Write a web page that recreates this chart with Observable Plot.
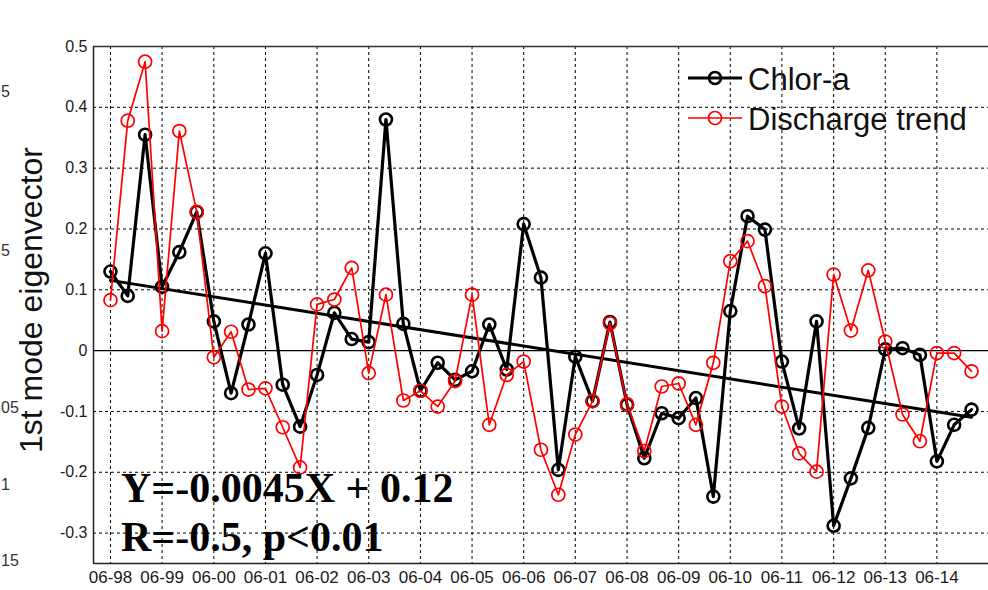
<!DOCTYPE html>
<html>
<head>
<meta charset="utf-8">
<script src="https://cdn.jsdelivr.net/npm/d3@7"></script>
<script src="https://cdn.jsdelivr.net/npm/@observablehq/plot@0.6"></script>
<style>
  html, body { margin: 0; padding: 0; background: #fff; }
  #chart { width: 988px; height: 590px; overflow: hidden; }
</style>
</head>
<body>
<div id="chart"></div>
<script>
// ---- data (every 4 months from June 1998) ----
const startYear = 1998, startMonth = 5, stepMonths = 4;
const chlorA = [0.13, 0.09, 0.355, 0.105, 0.162, 0.228, 0.048, -0.07, 0.043, 0.16,
  -0.056, -0.125, -0.04, 0.062, 0.019, 0.014, 0.38, 0.044, -0.066, -0.02,
  -0.048, -0.034, 0.043, -0.031, 0.208, 0.12, -0.196, -0.01, -0.083, 0.047,
  -0.089, -0.177, -0.103, -0.111, -0.078, -0.24, 0.065, 0.221, 0.199, -0.018,
  -0.128, 0.048, -0.288, -0.21, -0.127, 0.002, 0.004, -0.007, -0.182, -0.122, -0.097];
const discharge = [0.083, 0.378, 0.475, 0.032, 0.361, 0.228, -0.011, 0.031, -0.064, -0.062,
  -0.126, -0.192, 0.076, 0.084, 0.136, -0.037, 0.092, -0.082, -0.066, -0.092,
  -0.05, 0.092, -0.122, -0.04, -0.018, -0.163, -0.237, -0.138, -0.083, 0.045,
  -0.088, -0.165, -0.059, -0.054, -0.122, -0.02, 0.147, 0.18, 0.106, -0.092,
  -0.169, -0.199, 0.125, 0.033, 0.132, 0.015, -0.105, -0.149, -0.004, -0.004, -0.034];
const trendSlope = -0.0045, trendIntercept = 0.12;
const xTickLabels = ["06-98","06-99","06-00","06-01","06-02","06-03","06-04","06-05",
  "06-06","06-07","06-08","06-09","06-10","06-11","06-12","06-13","06-14"];
const yTicks = [0.5, 0.4, 0.3, 0.2, 0.1, 0, -0.1, -0.2, -0.3];
const yTickLabels = ["0.5","0.4","0.3","0.2","0.1","0","-0.1","-0.2","-0.3"];
const seriesNames = ["Chlor-a", "Discharge trend"];
const yTitle = "1st mode eigenvector";
const eqText = ["Y=-0.0045X + 0.12", "R=-0.5, p<0.01"];
// cut-off tick labels of the neighbouring panel, visible at the left edge
const strayLabels = ["5", "5", "05", "1", "15"];

// ---- build tables ----
const dateAt = i => new Date(Date.UTC(startYear, startMonth + stepMonths * i, 1));
const chl = chlorA.map((v, i) => ({date: dateAt(i), v}));
const dis = discharge.map((v, i) => ({date: dateAt(i), v}));
const nPts = chlorA.length;
const trend = [0, nPts - 1].map(i => ({date: dateAt(i), v: trendSlope * (i + 1) + trendIntercept}));
const tickDates = xTickLabels.map((s, k) => new Date(Date.UTC(1998 + k, 5, 1)));
const xTicksTable = tickDates.map((d, k) => ({date: d, label: xTickLabels[k]}));
const yTicksTable = yTicks.map((v, k) => ({v, label: yTickLabels[k]}));
const xDomain = [new Date(Date.UTC(1998, 1, 1)), new Date(Date.UTC(2015, 5, 1))];
const yDomain = [-0.35, 0.5];

const grid = {stroke: "#000", strokeOpacity: 1, strokeWidth: 1, strokeDasharray: "3,3"};
const sans = "'Liberation Sans', Arial, sans-serif";

const plot = Plot.plot({
  width: 988, height: 590,
  marginLeft: 93, marginRight: 0, marginTop: 46, marginBottom: 27,
  style: {fontFamily: sans, background: "#fff", color: "#1a1a1a", overflow: "visible"},
  x: {type: "utc", domain: xDomain, axis: null},
  y: {domain: yDomain, axis: null},
  marks: [
    Plot.gridX(tickDates, grid),
    Plot.gridY(yTicks.filter(v => v !== 0), grid),
    Plot.ruleY([0], {stroke: "#000", strokeWidth: 1.2}),
    Plot.ruleY([yDomain[1]], {stroke: "#333", strokeWidth: 1.5}),
    Plot.ruleY([yDomain[0]], {stroke: "#222", strokeWidth: 1.5}),
    Plot.ruleX([xDomain[0]], {stroke: "#222", strokeWidth: 1.5}),
    Plot.text(xTicksTable, {x: "date", text: "label", frameAnchor: "bottom", lineAnchor: "top",
      dy: 7, fontSize: 17, fill: "#1a1a1a"}),
    Plot.text(yTicksTable, {y: "v", text: "label", frameAnchor: "left", textAnchor: "end",
      dx: -6, fontSize: 16, fill: "#1a1a1a"}),
    Plot.line(trend, {x: "date", y: "v", stroke: "#000", strokeWidth: 3}),
    Plot.line(chl, {x: "date", y: "v", stroke: "#000", strokeWidth: 3.2}),
    Plot.dot(chl, {x: "date", y: "v", r: 6, stroke: "#000", strokeWidth: 2.6, fill: "none"}),
    Plot.line(dis, {x: "date", y: "v", stroke: "#ff0000", strokeWidth: 1.7}),
    Plot.dot(dis, {x: "date", y: "v", r: 6.5, stroke: "#ff0000", strokeWidth: 1.7, fill: "none"})
  ]
});
document.getElementById("chart").appendChild(plot);

// ---- overlays: y title, legend, regression text ----
const svg = d3.select(plot);
svg.append("text")
  .attr("transform", "translate(42,300) rotate(-90)")
  .attr("text-anchor", "middle")
  .attr("font-family", sans)
  .attr("font-size", 32).attr("fill", "#111")
  .text(yTitle);

const strayY = [91, 250, 407, 484, 560];
strayLabels.forEach((t, k) => {
  svg.append("text").attr("x", 1).attr("y", strayY[k])
    .attr("dy", "0.35em").attr("text-anchor", "start")
    .attr("font-family", sans).attr("font-size", 16).attr("fill", "#333")
    .text(t);
});

const lg = svg.append("g");
const legendRows = [
  {name: seriesNames[0], y: 78, stroke: "#000", w: 3.2, r: 6, sw: 2.6, base: 90},
  {name: seriesNames[1], y: 118, stroke: "#ff0000", w: 1.7, r: 6.5, sw: 1.7, base: 130}
];
for (const row of legendRows) {
  lg.append("line").attr("x1", 688).attr("x2", 742).attr("y1", row.y).attr("y2", row.y)
    .attr("stroke", row.stroke).attr("stroke-width", row.w);
  lg.append("circle").attr("cx", 715).attr("cy", row.y).attr("r", row.r)
    .attr("fill", "none").attr("stroke", row.stroke).attr("stroke-width", row.sw);
  lg.append("text").attr("x", 748).attr("y", row.base)
    .attr("text-anchor", "start")
    .attr("font-family", sans)
    .attr("font-size", 31).attr("fill", "#111").text(row.name);
}

eqText.forEach((t, k) => {
  svg.append("text").attr("x", 121).attr("y", k === 0 ? 502 : 551)
    .attr("text-anchor", "start")
    .attr("font-family", "'Liberation Serif', 'Times New Roman', serif")
    .attr("font-weight", "bold").attr("font-size", 42).attr("fill", "#000")
    .text(t);
});
</script>
</body>
</html>
